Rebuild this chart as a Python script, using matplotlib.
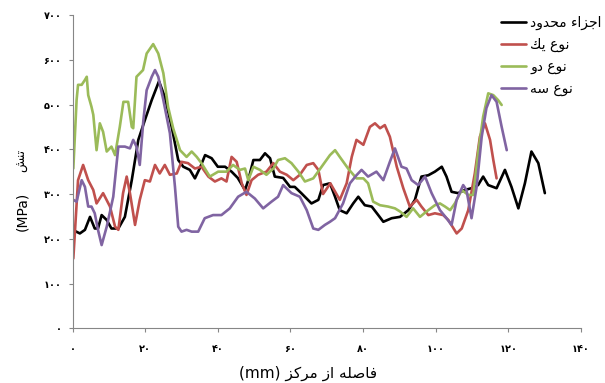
import matplotlib
matplotlib.use("Agg")
import matplotlib.pyplot as plt

# ---------------------------------------------------------------- data
fe_x = [0, 2, 3.4, 4.8, 6.1, 7, 8, 9.4, 10.7, 12.6, 14.4, 16.3, 18.1, 19.9, 21.8, 23.8,
        25.4, 27.3, 29.1, 30.5, 32.3, 33.7, 35, 36.5, 38.3, 40, 42, 43.8, 45.5, 47.5, 48.4,
        49.8, 51.6, 53, 54.4, 55.7, 58, 59.9, 61.2, 63, 65.8, 67.7, 69, 70.9, 72.3, 73.6,
        75.5, 77.3, 78.7, 80.5, 82.4, 84.2, 85.6, 87.9, 90.2, 92.5, 94.3, 96.1, 98, 99.8,
        101.7, 103, 104.4, 106.2, 108, 109.9, 111.7, 113.1, 114.5, 116.8, 119.1, 120.9,
        122.8, 124.6, 126.4, 128.3, 130.1]
fe_y = [220, 212, 220, 249, 223, 223, 253, 242, 223, 223, 249, 331, 421, 465, 510, 552,
        517, 450, 376, 361, 354, 335, 357, 387, 380, 361, 361, 350, 336, 309, 331,
        376, 376, 391, 380, 339, 336, 316, 316, 302, 279, 287, 320, 324, 294, 264,
        257, 279, 294, 275, 272, 253, 238, 246, 249, 264, 287, 339, 342, 350,
        361, 339, 305, 302, 309, 313, 320, 339, 320, 313, 354, 316,
        268, 324, 395, 369, 302]

t1_x = [0.2, 1.5, 2.9, 4.3, 5.7, 6.6, 8.4, 10.3, 11.7, 12.6, 13.9, 14.9, 15.8, 17.2, 18.5,
        19.9, 21.3, 22.7, 24, 25.4, 26.8, 28.7, 30, 31.8, 33.7, 35.5, 37.4, 39.2, 41, 42.4,
        43.8, 45.2, 46.6, 47.9, 49.3, 51.1, 53.4, 55.3, 57.1, 59, 60.8, 62.6, 64.5, 66.3,
        67.7, 69, 71, 73.6, 75.5, 76.9, 78.2, 80.1, 81.9, 83.3, 84.7, 86, 87.4, 89.3, 91.1,
        92.9, 94.8, 96.1, 98, 99.8, 102.1, 103.5, 105.8, 107.2, 109, 110.8, 112.2, 113.6,
        115, 115.9, 116.8]
t1_y = [156, 331, 365, 331, 309, 279, 302, 272, 227, 220, 302, 339, 302, 231, 287,
        331, 328, 365, 346, 365, 343, 346, 372, 369, 357, 361, 339, 328, 335, 328,
        383, 372, 324, 298, 331, 343, 350, 369, 350, 343, 331, 343, 365, 369,
        354, 300, 324, 287, 324, 383, 421, 410, 450, 458, 447, 454, 428, 361, 313,
        272, 287, 272, 253, 257, 253, 242, 212, 223, 264, 346, 428, 458,
        421, 376, 335]

t2_x = [0.2, 1.1, 1.5, 2.5, 3.4, 3.9, 4.3, 5.2, 5.7, 6.6, 7.5, 8.4, 9.4, 10.7, 11.7, 13,
        14, 15.3, 16.3, 16.7, 17.6, 19.4, 20.4, 22.2, 23.6, 25, 26.3, 27.7, 29.6, 31.4, 32.8,
        34.2, 35.5, 37.8, 40.1, 42.4, 44.2, 46.1, 47.5, 48.4, 49.8, 51.6, 53.4, 55.3, 56.6,
        58.5, 60.3, 62.2, 64, 66.3, 68.6, 70.9, 72.3, 73.6, 75.9, 78.2, 80.1, 81.4, 82.8,
        84.7, 86.9, 88.8, 90.2, 92, 93.8, 95.7, 97.5, 99.8, 101.2, 102.6, 104, 105.3, 107.2,
        109, 110.4, 111.7, 113.1, 114.5, 115.9, 117.2, 118.2]
t2_y = [357, 510, 544, 544, 555, 562, 521, 495, 477, 398, 458, 439, 395, 406, 387, 450,
        506, 506, 450, 447, 562, 577, 614, 635, 614, 570, 495, 447, 398, 383, 395,
        383, 369, 339, 350, 350, 365, 354, 357, 331, 361, 354, 343, 357, 376,
        380, 369, 350, 328, 335, 361, 387, 398, 383, 357, 335, 335, 324, 283,
        275, 272, 268, 261, 249, 268, 249, 261, 275, 279, 272, 264, 279, 309,
        298, 298, 391, 473, 525, 521, 510, 499]

t3_x = [0.2, 1.1, 2.5, 3.4, 4.3, 5.2, 6.1, 7, 8, 9.4, 11.2, 12.6, 14.4, 15.8, 16.7, 17.6,
        18.5, 19.5, 20.4, 21.8, 22.7, 23.6, 25, 26.8, 28.2, 29.1, 30, 31.4, 32.8, 34.6, 36.4,
        38.7, 41, 43.3, 45.6, 47.9, 50.2, 52.5, 54.8, 56.6, 58, 60.3, 62.6, 64.5, 66.3, 67.7,
        69.5, 70.9, 72.3, 74.5, 76.4, 78.2, 79.6, 81.4, 83.7, 85.6, 87.4, 88.8, 90.6, 92,
        93.4, 95.2, 97.1, 98.9, 101.2, 103, 104.4, 105.8, 107.6, 108.5, 109.9, 111.3, 112.7,
        114, 115.4, 116.8, 118.2, 119.6]
t3_y = [287, 283, 331, 316, 272, 272, 257, 220, 186, 227, 294, 406, 406, 402, 421, 406,
        365, 465, 532, 562, 577, 562, 510, 436, 316, 227, 216, 220, 216, 216, 246,
        253, 253, 268, 294, 305, 290, 268, 283, 294, 320, 302, 294, 264, 223, 220,
        231, 238, 246, 279, 324, 342, 354, 339, 350, 331, 372, 402, 361, 357,
        331, 320, 339, 302, 264, 246, 231, 287, 320, 309, 246, 316, 428,
        492, 521, 506, 450, 398]

series_names = ["اجزاء محدود", "نوع یك", "نوع دو", "نوع سه"]
series_colors = ["#000000", "#C0504D", "#9BBB59", "#8064A2"]

x_ticks = [0, 20, 40, 60, 80, 100, 120, 140]
y_ticks = [0, 100, 200, 300, 400, 500, 600, 700]
x_title = "فاصله از مرکز"
y_title = "تنش"
x_unit = "(mm)"
y_unit = "(MPa)"

# ------------------------------------------------- Arabic-script shaping
# isolated, final, initial, medial presentation forms
FORMS = {
    "ء": ("\uFE80", None, None, None),
    "ا": ("\uFE8D", "\uFE8E", None, None),
    "ت": ("\uFE95", "\uFE96", "\uFE97", "\uFE98"),
    "ج": ("\uFE9D", "\uFE9E", "\uFE9F", "\uFEA0"),
    "ح": ("\uFEA1", "\uFEA2", "\uFEA3", "\uFEA4"),
    "د": ("\uFEA9", "\uFEAA", None, None),
    "ر": ("\uFEAD", "\uFEAE", None, None),
    "ز": ("\uFEAF", "\uFEB0", None, None),
    "س": ("\uFEB1", "\uFEB2", "\uFEB3", "\uFEB4"),
    "ش": ("\uFEB5", "\uFEB6", "\uFEB7", "\uFEB8"),
    "ص": ("\uFEB9", "\uFEBA", "\uFEBB", "\uFEBC"),
    "ع": ("\uFEC9", "\uFECA", "\uFECB", "\uFECC"),
    "ف": ("\uFED1", "\uFED2", "\uFED3", "\uFED4"),
    "ك": ("\uFED9", "\uFEDA", "\uFEDB", "\uFEDC"),
    "ل": ("\uFEDD", "\uFEDE", "\uFEDF", "\uFEE0"),
    "م": ("\uFEE1", "\uFEE2", "\uFEE3", "\uFEE4"),
    "ن": ("\uFEE5", "\uFEE6", "\uFEE7", "\uFEE8"),
    "ه": ("\uFEE9", "\uFEEA", "\uFEEB", "\uFEEC"),
    "و": ("\uFEED", "\uFEEE", None, None),
    "ک": ("\uFB8E", "\uFB8F", "\uFB90", "\uFB91"),
    "ی": ("\uFBFC", "\uFBFD", "\uFBFE", "\uFBFF"),
}


def shape_rtl(text):
    """Pick contextual letter forms and return the string in visual order."""
    out = []
    n = len(text)
    for i, ch in enumerate(text):
        if ch not in FORMS:
            out.append(ch)
            continue
        iso, fin, ini, med = FORMS[ch]
        prev = text[i - 1] if i > 0 else ""
        nxt = text[i + 1] if i < n - 1 else ""
        jp = prev in FORMS and FORMS[prev][2] is not None and fin is not None
        jn = nxt in FORMS and FORMS[nxt][1] is not None and ini is not None
        if jp and jn:
            out.append(med)
        elif jp:
            out.append(fin)
        elif jn:
            out.append(ini)
        else:
            out.append(iso)
    return "".join(reversed(out))


def persian_digits(v):
    return str(v).translate(str.maketrans("0123456789", "۰۱۲۳۴۵۶۷۸۹"))


plt.rcParams["font.family"] = ["DejaVu Sans"]

# ---------------------------------------------------------------- figure
fig = plt.figure(figsize=(6.05, 3.83), dpi=100)
ax = fig.add_axes([0.120, 0.1428, 0.840, 0.818])

all_x = [fe_x, t1_x, t2_x, t3_x]
all_y = [fe_y, t1_y, t2_y, t3_y]
for xs, ys, name, col in zip(all_x, all_y, series_names, series_colors):
    ax.plot(xs, ys, color=col, lw=1.9, label=shape_rtl(name),
            solid_joinstyle="round", solid_capstyle="round")

ax.set_xlim(0, 140)
ax.set_ylim(0, 700)
ax.set_xticks(x_ticks)
ax.set_yticks(y_ticks)
ax.set_xticklabels([persian_digits(v) for v in x_ticks], fontsize=7, fontweight="bold")
ax.set_yticklabels([persian_digits(v) for v in y_ticks], fontsize=7, fontweight="bold")
ax.tick_params(axis="both", direction="out", length=3, width=0.8, color="#868686")
ax.tick_params(axis="x", pad=8)
ax.tick_params(axis="y", pad=5)

for side in ("top", "right"):
    ax.spines[side].set_visible(False)
for side in ("left", "bottom"):
    ax.spines[side].set_color("#868686")
    ax.spines[side].set_linewidth(0.8)

# axis titles
fig.text(308 / 605, 1 - 373 / 383, x_unit + " " + shape_rtl(x_title),
         ha="center", va="center", fontsize=11)
fig.text(22 / 605, 1 - 211 / 383, y_unit, rotation=90,
         ha="center", va="center", fontsize=10)
fig.text(22 / 605, 1 - 160 / 383, shape_rtl(y_title), rotation=90,
         ha="center", va="center", fontsize=9)

fig.legend(loc="upper left", bbox_to_anchor=(501 / 605, 1 - 16 / 383),
           frameon=False, fontsize=10, handlelength=1.8, handletextpad=0.3,
           labelspacing=0.55, borderaxespad=0, borderpad=0)

fig.savefig("out.png", dpi=100)
